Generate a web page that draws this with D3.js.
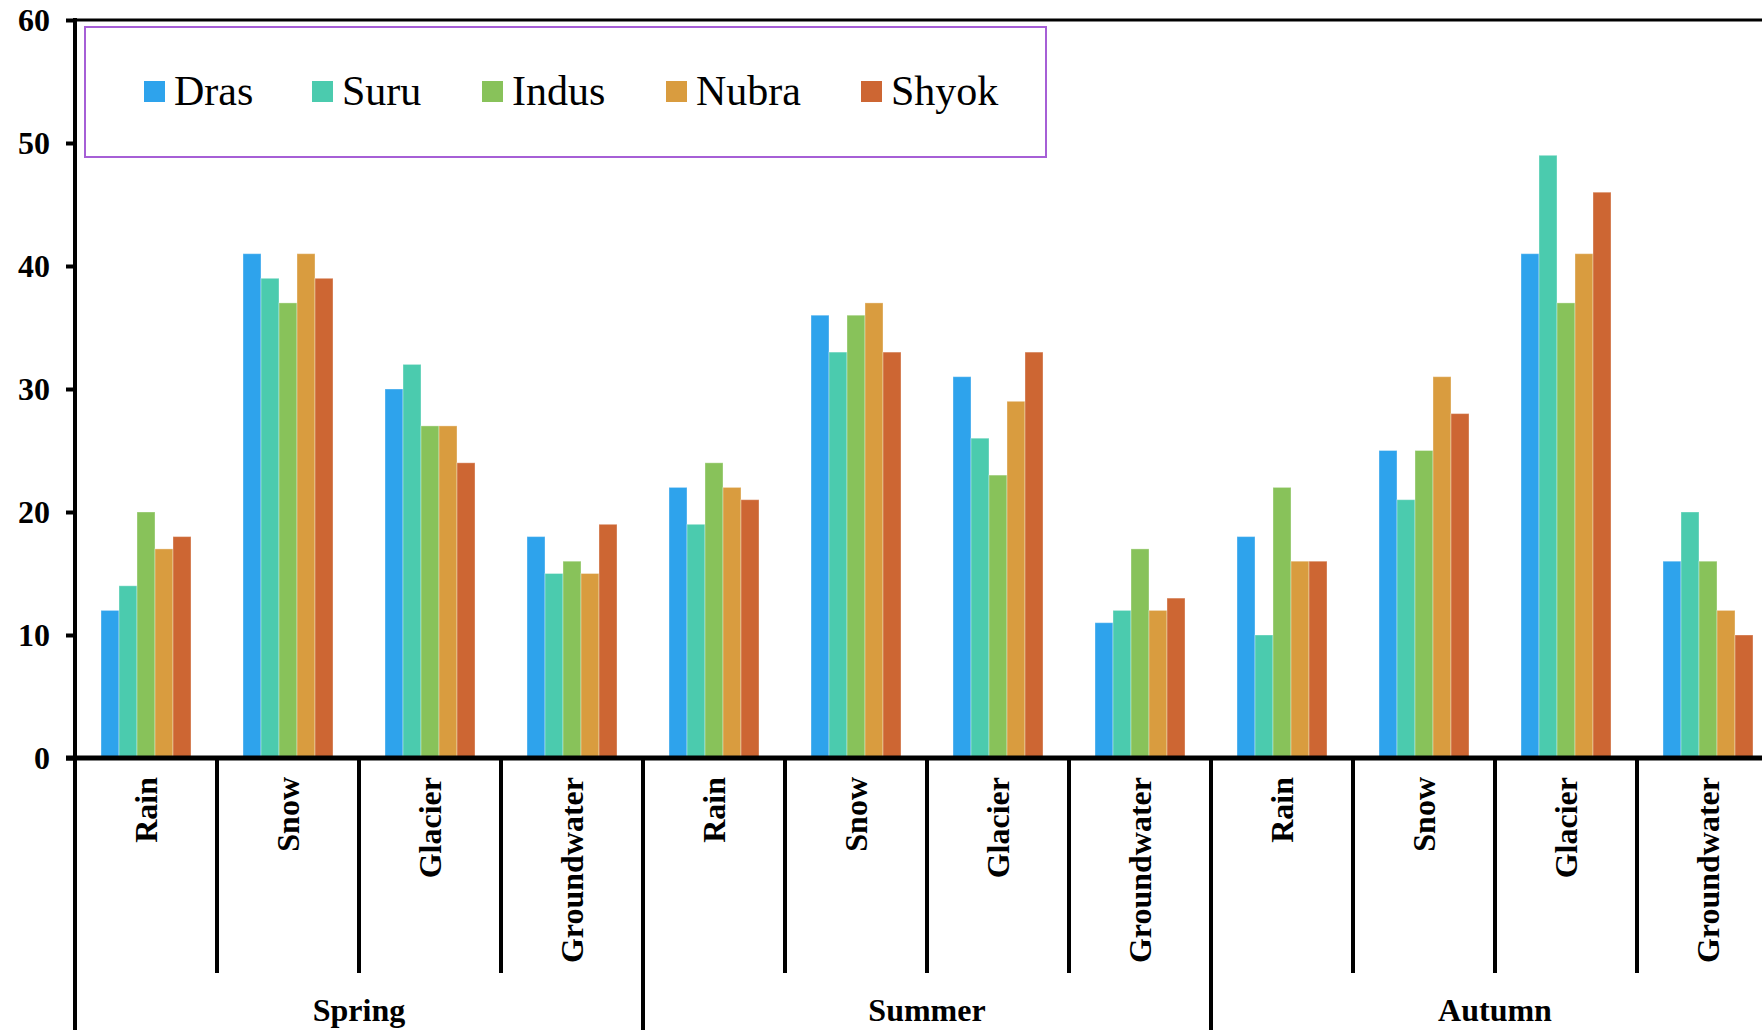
<!DOCTYPE html>
<html>
<head>
<meta charset="utf-8">
<script src="https://cdn.jsdelivr.net/npm/d3@7"></script>
<style>
  html, body { margin: 0; padding: 0; background: #fff; overflow: hidden; }
  svg { display: block; }
  text { font-family: "Liberation Serif", "Times New Roman", serif; }
</style>
</head>
<body>
<svg id="chart" width="1762" height="1030"></svg>
<script>
// Seasonal runoff contribution (%) by source for the five rivers
const seasons = ["Spring", "Summer", "Autumn"];
const sources = ["Rain", "Snow", "Glacier", "Groundwater"];
const rivers = ["Dras", "Suru", "Indus", "Nubra", "Shyok"];
const colors = ["#2ea3ec", "#4bcbae", "#88c25a", "#d99c3f", "#cd6633"];
const yTicks = [0, 10, 20, 30, 40, 50, 60];

// one row per season, one inner array per source, values in river order
const springValues = [
  [12, 14, 20, 17, 18],
  [41, 39, 37, 41, 39],
  [30, 32, 27, 27, 24],
  [18, 15, 16, 15, 19]
];
const summerValues = [
  [22, 19, 24, 22, 21],
  [36, 33, 36, 37, 33],
  [31, 26, 23, 29, 33],
  [11, 12, 17, 12, 13]
];
const autumnValues = [
  [18, 10, 22, 16, 16],
  [25, 21, 25, 31, 28],
  [41, 49, 37, 41, 46],
  [16, 20, 16, 12, 10]
];

const seasonValues = [springValues, summerValues, autumnValues];
const cells = [];
seasons.forEach((s, si) => {
  sources.forEach((src, ci) => {
    cells.push({ key: s + "|" + src, season: s, source: src, values: seasonValues[si][ci] });
  });
});

const svg = d3.select("#chart");
const marginLeft = 75, plotTop = 20, plotBottom = 758;
const band = 142;
const plotRight = marginLeft + band * cells.length;

const x = d3.scaleBand()
  .domain(cells.map(d => d.key))
  .range([marginLeft, plotRight])
  .paddingInner(0).paddingOuter(0);

const xInner = d3.scaleBand()
  .domain(rivers)
  .range([(band - 90) / 2, (band + 90) / 2])
  .padding(0);

const y = d3.scaleLinear().domain([0, 60]).range([plotBottom, plotTop]);
const color = d3.scaleOrdinal().domain(rivers).range(colors);

// top frame line
svg.append("line")
  .attr("x1", marginLeft).attr("x2", 1762)
  .attr("y1", y(60)).attr("y2", y(60))
  .attr("stroke", "#000").attr("stroke-width", 3);

// bars
const groups = svg.append("g").selectAll("g")
  .data(cells).join("g")
  .attr("transform", d => `translate(${x(d.key)},0)`);

groups.selectAll("rect")
  .data(d => d.values.map((v, i) => ({ river: rivers[i], value: v })))
  .join("rect")
  .attr("x", d => xInner(d.river))
  .attr("width", xInner.bandwidth())
  .attr("y", d => y(d.value))
  .attr("height", d => y(0) - y(d.value))
  .attr("fill", d => color(d.river))
  .attr("stroke", "rgba(255,255,255,0.35)")
  .attr("stroke-width", 1);

// y axis
const yAxis = svg.append("g")
  .attr("transform", `translate(${marginLeft},0)`)
  .call(d3.axisLeft(y).tickValues(yTicks).tickSize(9).tickPadding(16).tickFormat(d3.format("d")));
yAxis.select(".domain").remove();
yAxis.selectAll(".tick line").attr("stroke", "#000").attr("stroke-width", 4);
yAxis.selectAll(".tick text")
  .attr("fill", "#000")
  .style("font-size", "32px")
  .style("font-weight", "bold");

// left axis line running down through the category area
svg.append("line")
  .attr("x1", marginLeft).attr("x2", marginLeft)
  .attr("y1", plotTop - 2).attr("y2", 1030)
  .attr("stroke", "#000").attr("stroke-width", 4);

// x axis baseline
svg.append("line")
  .attr("x1", marginLeft - 9).attr("x2", 1762)
  .attr("y1", y(0)).attr("y2", y(0))
  .attr("stroke", "#000").attr("stroke-width", 5);

// separators between source categories and between seasons
const sepBottomShort = 973;
cells.forEach((d, i) => {
  if (i === 0) return;
  const isSeason = i % sources.length === 0;
  svg.append("line")
    .attr("x1", x(d.key)).attr("x2", x(d.key))
    .attr("y1", y(0)).attr("y2", isSeason ? 1030 : sepBottomShort)
    .attr("stroke", "#000").attr("stroke-width", 4);
});

// rotated source labels
svg.append("g").selectAll("text")
  .data(cells).join("text")
  .attr("transform", d => `translate(${x(d.key) + band / 2 + 11},777) rotate(-90)`)
  .attr("text-anchor", "end")
  .style("font-size", "32px")
  .style("font-weight", "bold")
  .text(d => d.source);

// season labels
svg.append("g").selectAll("text")
  .data(seasons).join("text")
  .attr("x", (s, i) => marginLeft + band * sources.length * (i + 0.5))
  .attr("y", 1021)
  .attr("text-anchor", "middle")
  .style("font-size", "32px")
  .style("font-weight", "bold")
  .text(s => s);

// legend
const legend = svg.append("g");
legend.append("rect")
  .attr("x", 85).attr("y", 27)
  .attr("width", 961).attr("height", 130)
  .attr("fill", "#fff")
  .attr("stroke", "#a65fd6").attr("stroke-width", 2);

const legendX = [144, 312, 482, 666, 861];
const items = legend.selectAll("g.item")
  .data(rivers).join("g")
  .attr("class", "item")
  .attr("transform", (d, i) => `translate(${legendX[i]},81)`);
items.append("rect")
  .attr("width", 21).attr("height", 21)
  .attr("fill", d => color(d));
items.append("text")
  .attr("x", 30).attr("y", 24)
  .style("font-size", "42px")
  .text(d => d);
</script>
</body>
</html>
